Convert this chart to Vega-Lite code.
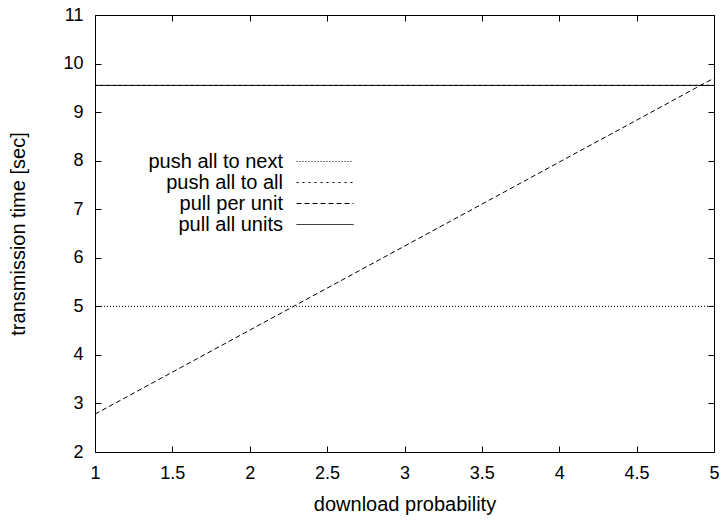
{
  "$schema": "https://vega.github.io/schema/vega-lite/v6.json",
  "autosize": "none",
  "width": 619,
  "height": 437,
  "padding": {"left": 95, "top": 15, "right": 10, "bottom": 68},
  "background": "white",
  "config": {
    "view": {"stroke": "black", "strokeWidth": 1},
    "font": "Liberation Sans",
    "axis": {
      "labelFont": "Liberation Sans",
      "labelFontSize": 18,
      "labelColor": "black",
      "titleFont": "Liberation Sans",
      "titleFontSize": 20,
      "titleFontWeight": "normal",
      "titleColor": "black",
      "domain": false,
      "grid": false,
      "tickColor": "black",
      "tickWidth": 1,
      "tickSize": -6
    },
    "legend": {
      "labelFont": "Liberation Sans",
      "labelFontSize": 20,
      "labelColor": "black"
    }
  },
  "data": {
    "values": [
      {"series": "push all to next", "x": 1, "y": 5},
      {"series": "push all to next", "x": 5, "y": 5},
      {"series": "push all to all", "x": 1, "y": 9.55},
      {"series": "push all to all", "x": 5, "y": 9.55},
      {"series": "pull per unit", "x": 1, "y": 2.78},
      {"series": "pull per unit", "x": 5, "y": 9.7},
      {"series": "pull all units", "x": 1, "y": 9.55},
      {"series": "pull all units", "x": 5, "y": 9.55}
    ]
  },
  "layer": [
    {
      "mark": {"type": "line", "color": "black", "strokeWidth": 1, "clip": true},
      "encoding": {
        "x": {
          "field": "x", "type": "quantitative",
          "scale": {"domain": [1, 5], "nice": false, "zero": false},
          "axis": {
            "orient": "bottom",
            "title": "download probability",
            "values": [1, 1.5, 2, 2.5, 3, 3.5, 4, 4.5, 5],
            "format": "~g",
            "labelPadding": 18,
            "titlePadding": 12,
            "labelFlush": false
          }
        },
        "y": {
          "field": "y", "type": "quantitative",
          "scale": {"domain": [2, 11], "nice": false, "zero": false},
          "axis": {
            "orient": "left",
            "title": "transmission time [sec]",
            "values": [2, 3, 4, 5, 6, 7, 8, 9, 10, 11],
            "labelPadding": 18,
            "titlePadding": 34,
            "labelFlush": false
          }
        },
        "strokeDash": {
          "field": "series", "type": "nominal",
          "scale": {
            "domain": ["push all to next", "push all to all", "pull per unit", "pull all units"],
            "range": [[1, 2], [2, 4], [5, 3], [1, 0]]
          },
          "legend": {
            "title": null,
            "orient": "none",
            "legendX": 219.5,
            "legendY": 136,
            "symbolType": "M-2.85,0H2.85",
            "symbolSize": 400,
            "symbolStrokeColor": "black",
            "symbolStrokeWidth": 1,
            "labelAlign": "right",
            "labelOffset": -52.5,
            "rowPadding": -1,
            "padding": 0
          }
        }
      }
    },
    {
      "mark": {"type": "rule", "opacity": 0},
      "encoding": {
        "x": {
          "field": "x", "type": "quantitative",
          "axis": {
            "orient": "top",
            "title": null,
            "labels": false,
            "values": [1, 1.5, 2, 2.5, 3, 3.5, 4, 4.5, 5]
          }
        },
        "y": {
          "field": "y", "type": "quantitative",
          "axis": {
            "orient": "right",
            "title": null,
            "labels": false,
            "values": [2, 3, 4, 5, 6, 7, 8, 9, 10, 11]
          }
        }
      }
    }
  ],
  "resolve": {"axis": {"x": "independent", "y": "independent"}}
}
